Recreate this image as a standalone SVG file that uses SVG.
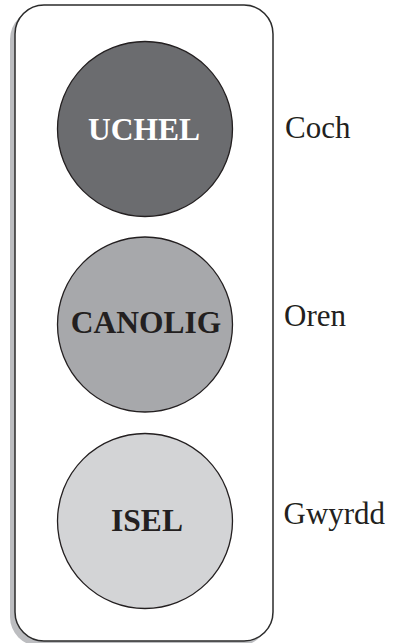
<svg xmlns="http://www.w3.org/2000/svg" width="394" height="643" viewBox="0 0 394 643">
<style>
.lamp{stroke:#231f20;stroke-width:1.3}
.in{font-family:"Liberation Serif","Times New Roman",serif;font-weight:bold;font-size:31.5px;text-anchor:middle}
.lbl{font-family:"Liberation Serif","Times New Roman",serif;font-size:31px;fill:#231f20}
</style>
<rect width="394" height="643" fill="#ffffff"/>
<g id="frame">
<rect x="10" y="10" width="258" height="636" rx="29" fill="#bcbdc0"/>
<rect x="15" y="5" width="258" height="636" rx="29" fill="#ffffff" stroke="#2b2b2b" stroke-width="1.5"/>
</g>
<g id="uchel">
<circle class="lamp" cx="145" cy="129" r="87.5" fill="#6b6c6f"/>
<text class="in" x="144" y="140" fill="#ffffff">UCHEL</text>
</g>
<g id="canolig">
<circle class="lamp" cx="145" cy="324.5" r="87.5" fill="#a7a8ab"/>
<text class="in" x="146" y="333" fill="#231f20">CANOLIG</text>
</g>
<g id="isel">
<circle class="lamp" cx="145" cy="521" r="87.5" fill="#d3d4d6"/>
<text class="in" x="147" y="531" fill="#231f20">ISEL</text>
</g>
<g id="labels">
<text class="lbl" x="285" y="137.5">Coch</text>
<text class="lbl" x="284" y="326">Oren</text>
<text class="lbl" x="283.5" y="523.5">Gwyrdd</text>
</g>
<g id="connectors"/>
</svg>
